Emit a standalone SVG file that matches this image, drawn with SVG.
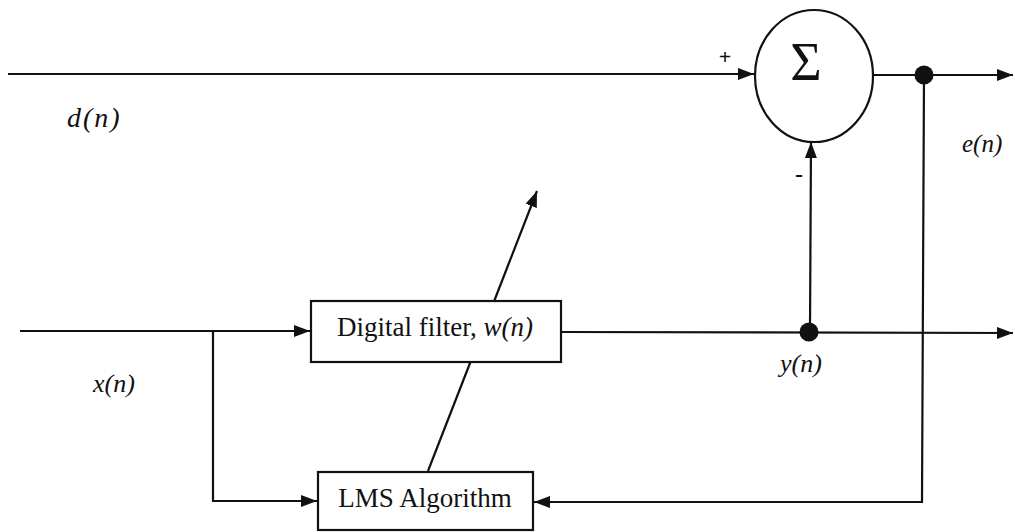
<svg xmlns="http://www.w3.org/2000/svg" width="1015" height="532" viewBox="0 0 1015 532">
<style>
.ln{stroke:#111;stroke-width:2.2;fill:none}
.box{stroke:#111;stroke-width:2.2;fill:#fff}
.t{font-family:"Liberation Serif","Times New Roman",serif;fill:#111}
.i{font-style:italic}
</style>
<defs>
<marker id="ah" viewBox="0 0 16 12" refX="16" refY="6" markerWidth="16" markerHeight="12" markerUnits="userSpaceOnUse" orient="auto">
<path d="M0,0 L16,6 L0,12 Z" fill="#111"/>
</marker>
</defs>
<rect width="1015" height="532" fill="#fff"/>
<g id="connectors">
<line class="ln" x1="8" y1="74" x2="754" y2="74" marker-end="url(#ah)"/>
<line class="ln" x1="873" y1="75" x2="1013" y2="75" marker-end="url(#ah)"/>
<polyline class="ln" points="924,75 922,502 534,502" marker-end="url(#ah)"/>
<line class="ln" x1="20" y1="331" x2="310" y2="331" marker-end="url(#ah)"/>
<polyline class="ln" points="213,331 213,501 317,501" marker-end="url(#ah)"/>
<line class="ln" x1="561" y1="332" x2="1013" y2="333" marker-end="url(#ah)"/>
<line class="ln" x1="810" y1="332" x2="811" y2="142" marker-end="url(#ah)"/>
<line class="ln" x1="428" y1="471" x2="537" y2="191" marker-end="url(#ah)"/>
<circle cx="924" cy="75" r="9.5" fill="#111"/>
<circle cx="809" cy="332" r="9.5" fill="#111"/>
</g>
<g id="sum">
<ellipse class="box" cx="814" cy="76" rx="59" ry="66"/>
<text class="t" x="806" y="80" font-size="54" text-anchor="middle">Σ</text>
<text class="t" x="725" y="64" font-size="22" font-weight="bold" text-anchor="middle">+</text>
<text class="t" x="799" y="182" font-size="24" font-weight="bold" text-anchor="middle">-</text>
</g>
<g id="filter">
<rect class="box" x="311" y="301" width="250" height="61"/>
<text class="t" x="435" y="336" font-size="27" text-anchor="middle">Digital filter, <tspan class="i">w(n)</tspan></text>
</g>
<g id="lms">
<rect class="box" x="318" y="472" width="215" height="58"/>
<text class="t" x="425" y="507" font-size="27" text-anchor="middle">LMS Algorithm</text>
</g>
<g id="labels">
<text class="t i" x="67" y="127" font-size="28" letter-spacing="2">d(n)</text>
<text class="t i" x="93" y="392" font-size="26">x(n)</text>
<text class="t i" x="780" y="372" font-size="26">y(n)</text>
<text class="t i" x="962" y="152" font-size="25">e(n)</text>
</g>
</svg>
